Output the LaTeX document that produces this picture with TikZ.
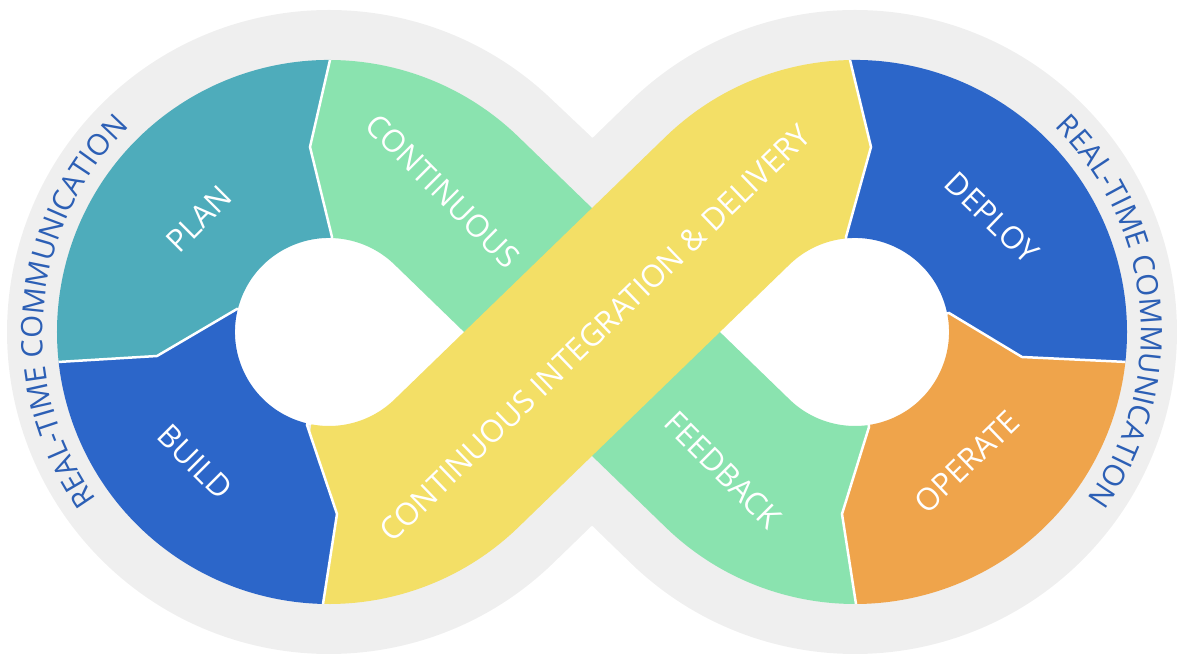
\documentclass[tikz,border=0pt]{standalone}
\usepackage{fontspec}
\setmainfont{Open Sans}
\usetikzlibrary{decorations.text}
\definecolor{cGrey}{HTML}{EFEFEF}
\definecolor{cPlan}{HTML}{4EACBB}
\definecolor{cBlue}{HTML}{2C66C9}
\definecolor{cGreen}{HTML}{8AE3AF}
\definecolor{cYellow}{HTML}{F3DF66}
\definecolor{cOrange}{HTML}{EFA44B}
\definecolor{cText}{HTML}{2C5FB5}
\newcommand\rtcstyle{\fontsize{29.5}{34}\selectfont\color{cText}}
\begin{document}
\begin{tikzpicture}[x=1pt,y=1pt,
  seg/.style={line width=178pt},
  chev/.style={white, line width=2.5pt, line join=miter},
  lbl/.style={text=white, font=\fontsize{31}{36}\selectfont, inner sep=0pt}]
\useasboundingbox (0,0) rectangle (1184,664);
\coordinate (CL) at (329,332);
\coordinate (CR) at (855,332);
\coordinate (TLu) at (456.34,463.43);
\coordinate (TLd) at (456.34,200.57);
\coordinate (TRu) at (727.66,463.43);
\coordinate (TRd) at (727.66,200.57);
% grey outer band
\draw[cGrey, line width=278pt] (TLu) -- (TRd) arc[start angle=225.91, end angle=494.09, radius=183pt]
  -- (TLd) arc[start angle=-45.91, end angle=-314.09, radius=183pt] -- cycle;
% holes
\fill[white] (465.5,332) -- (395.10,400.23) arc[start angle=45.91, end angle=314.09, radius=95pt] -- cycle;
\fill[white] (718.5,332) -- (788.90,400.23) arc[start angle=134.09, end angle=-134.09, radius=95pt] -- cycle;
% PLAN
\begin{scope}
\clip (329,332)--(332,427)--(310,517)--(330,604)--(335,720)--(-50,720)--(-50,301)--(58,302)--(157,308)--(237,355)--cycle;
\draw[cPlan, seg] (CL) ++(70:183) arc[start angle=70, end angle=200, radius=183pt];
\end{scope}
% BUILD
\begin{scope}
\clip (329,332)--(237,355)--(157,308)--(58,302)--(-50,301)--(-50,-60)--(320,-60)--(323,60)--(337,150)--(307,239)--cycle;
\draw[cBlue, seg] (CL) ++(160:183) arc[start angle=160, end angle=290, radius=183pt];
\end{scope}
% DEPLOY
\begin{scope}
\clip (855,332)--(846,427)--(871,517)--(850,604)--(846,720)--(1250,720)--(1250,301)--(1127,302)--(1022,307)--(949,351)--cycle;
\draw[cBlue, seg] (CR) ++(110:183) arc[start angle=110, end angle=-20, radius=183pt];
\end{scope}
% OPERATE
\begin{scope}
\clip (855,332)--(949,351)--(1022,307)--(1127,302)--(1250,301)--(1250,-60)--(858,-60)--(856,60)--(842,150)--(869,237)--cycle;
\draw[cOrange, seg] (CR) ++(20:183) arc[start angle=20, end angle=-110, radius=183pt];
\end{scope}
% GREEN
\begin{scope}
\clip (329,332)--(332,427)--(310,517)--(330,604)--(335,720)--(1250,720)--(1250,332)--(855,332)--(869,237)--(842,150)--(856,60)--(858,-60)--(329,-60)--cycle;
\draw[cGreen, seg] (CL) ++(100:183) arc[start angle=100, end angle=45.91, radius=183pt]
  -- (TRd) arc[start angle=225.91, end angle=290, radius=183pt];
\end{scope}
% YELLOW
\begin{scope}
\clip (329,332)--(307,239)--(337,150)--(323,60)--(320,-60)--(1250,-60)--(1250,332)--(855,332)--(846,427)--(871,517)--(850,604)--(846,720)--(329,720)--cycle;
\draw[cYellow, seg] (CL) ++(260:183) arc[start angle=260, end angle=314.09, radius=183pt]
  -- (TRu) arc[start angle=134.09, end angle=80, radius=183pt];
\end{scope}
% white boundaries
\begin{scope}
\clip (CL) circle[radius=272pt];
\draw[chev] (329,332)--(332,427)--(310,517)--(330,604)--(333,700);
\draw[chev] (329,332)--(237,355)--(157,308)--(58,302)--(-20,301);
\draw[chev] (329,332)--(307,239)--(337,150)--(323,60)--(320,-30);
\end{scope}
\begin{scope}
\clip (CR) circle[radius=272pt];
\draw[chev] (855,332)--(846,427)--(871,517)--(850,604)--(846,700);
\draw[chev] (855,332)--(949,351)--(1022,307)--(1127,302)--(1200,301);
\draw[chev] (855,332)--(869,237)--(842,150)--(856,60)--(858,-30);
\end{scope}
% labels
\node[lbl, rotate=45] (plan) at (199,445) {PLAN};
\node[lbl, rotate=-45] (build) at (195,202) {BUILD};
\node[lbl, rotate=-45] (cont) at (443,473) {CONTINUOUS};
\node[lbl, rotate=44] (cicd) at (595,331) {CONTINUOUS INTEGRATION \& DELIVERY};
\node[lbl, rotate=-45] (feed) at (723,194) {FEEDBACK};
\node[lbl, rotate=-44] (deploy) at (992,446) {DEPLOY};
\node[lbl, rotate=44] (operate) at (967,202) {OPERATE};
% real-time communication
\path[decorate, decoration={text along path, text align=center,
  text={|\rtcstyle|REAL-TIME COMMUNICATION}}]
  (CL) ++(245:286) arc[start angle=245, end angle=105, radius=286pt];
\path[decorate, decoration={text along path, text align=center,
  text={|\rtcstyle|REAL-TIME COMMUNICATION}}]
  (CR) ++(75:286) arc[start angle=75, end angle=-65, radius=286pt];
\end{tikzpicture}
\end{document}
